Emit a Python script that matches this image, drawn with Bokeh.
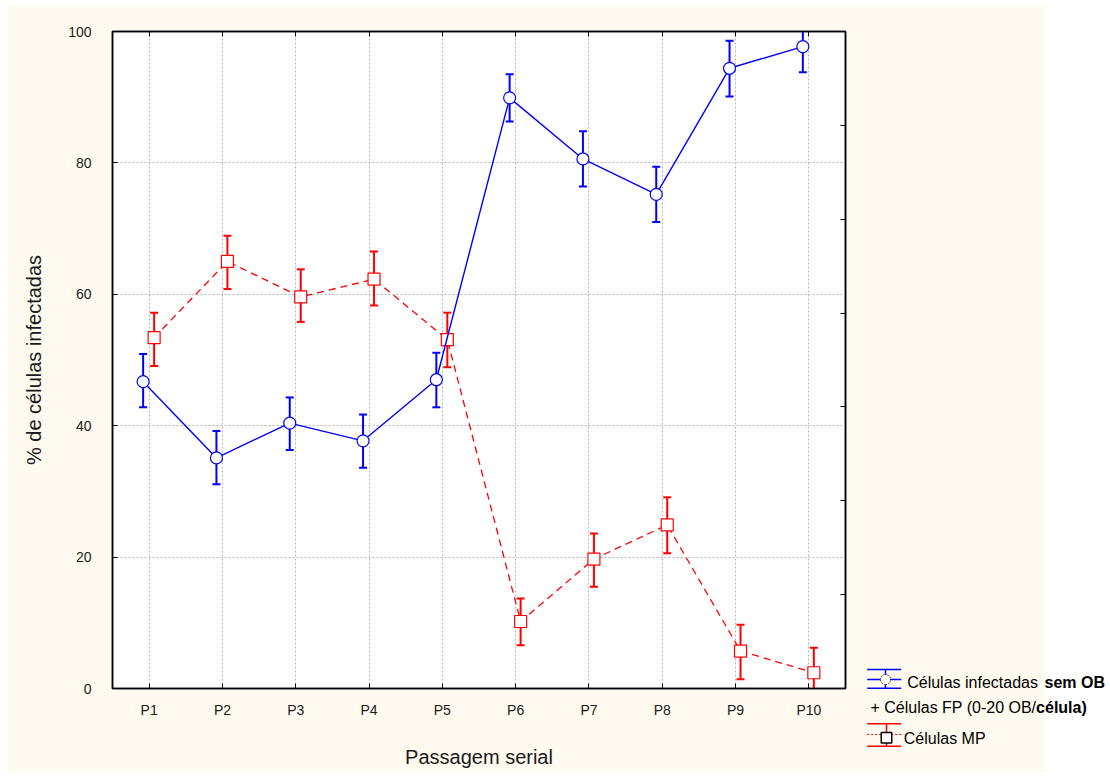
import numpy as np
from bokeh.plotting import figure
from bokeh.models import (ColumnDataSource, Range1d, FixedTicker, LinearAxis,
                          CustomJSTickFormatter)
from bokeh.core.properties import value
from bokeh.embed import file_html
from bokeh.resources import INLINE

# ---- data ----
passagens = ["P1", "P2", "P3", "P4", "P5", "P6", "P7", "P8", "P9", "P10"]
sem_ob = [46.7, 35.1, 40.4, 37.7, 47.0, 89.9, 80.6, 75.2, 94.4, 97.7]
sem_ob_sup = [50.9, 39.2, 44.3, 41.7, 51.1, 93.5, 84.8, 79.4, 98.6, 101.8]
sem_ob_inf = [42.8, 31.1, 36.3, 33.6, 42.8, 86.3, 76.4, 71.0, 90.1, 93.8]
mp = [53.4, 65.0, 59.6, 62.3, 53.1, 10.2, 19.7, 24.9, 5.7, 2.4]
mp_sup = [57.2, 68.9, 63.8, 66.5, 57.2, 13.7, 23.6, 29.1, 9.7, 6.2]
mp_inf = [49.1, 60.8, 55.8, 58.3, 48.9, 6.6, 15.5, 20.6, 1.4, -1.9]
y_ticks = [0, 20, 40, 60, 80, 100]

BLUE = "#0000FF"
RED = "#FF0000"
CREAM = "#FEFAEF"
TXT = "#1a1a1a"
FONT = "Liberation Sans"

pos = np.arange(1, len(passagens) + 1)
src_b = ColumnDataSource(dict(x=pos - 0.082, y=sem_ob, upper=sem_ob_sup, lower=sem_ob_inf))
src_r = ColumnDataSource(dict(x=pos + 0.068, y=mp, upper=mp_sup, lower=mp_inf))

p = figure(frame_width=733, frame_height=657,
           min_border_left=112, min_border_right=15, min_border_top=31, min_border_bottom=84,
           x_range=Range1d(0.5, 10.5), y_range=Range1d(0, 100),
           output_backend="svg", toolbar_location=None,
           border_fill_color=None, background_fill_color="white",
           outline_line_color="black", outline_line_width=1.5,
           styles={"background": "linear-gradient(%s, %s) 8px 5px / 100%% 100%% no-repeat, #FFFFFF"
                   % (CREAM, CREAM)})

# axes
p.xaxis.ticker = FixedTicker(ticks=list(pos))
p.xaxis.major_label_overrides = {int(i): lab for i, lab in zip(pos, passagens)}
p.yaxis.ticker = FixedTicker(ticks=y_ticks)
for ax in (p.xaxis[0], p.yaxis[0]):
    ax.major_tick_in = 5
    ax.major_tick_out = 0
    ax.minor_tick_line_color = None
    ax.axis_line_color = "black"
    ax.axis_line_width = 1.5
    ax.major_tick_line_color = "black"
    ax.major_label_text_font = FONT
    ax.major_label_text_font_size = "14px"
    ax.major_label_text_color = TXT
    ax.axis_label_text_font = FONT
    ax.axis_label_text_font_size = "20px"
    ax.axis_label_text_font_style = "normal"
    ax.axis_label_text_color = TXT
p.xaxis.axis_label = "Passagem serial"
p.yaxis.axis_label = "% de células infectadas"
p.xaxis.major_label_standoff = 13
p.xaxis.axis_label_standoff = 25
p.yaxis.major_label_standoff = 21
p.yaxis.axis_label_standoff = 20

blank = CustomJSTickFormatter(code="return '';")
top_ax = LinearAxis(ticker=FixedTicker(ticks=list(pos)), formatter=blank,
                    major_tick_in=5, major_tick_out=0, minor_tick_line_color=None,
                    axis_line_color="black", axis_line_width=1.5, major_label_standoff=0,
                    axis_label_standoff=0)
right_ax = LinearAxis(ticker=FixedTicker(ticks=[100.0 * k / 7 for k in range(8)]), formatter=blank,
                      major_tick_in=5, major_tick_out=0, minor_tick_line_color=None,
                      axis_line_color="black", axis_line_width=1.5, major_label_standoff=0,
                      axis_label_standoff=0)
p.add_layout(top_ax, "above")
p.add_layout(right_ax, "right")

# grid
p.xgrid.ticker = FixedTicker(ticks=list(pos))
p.ygrid.ticker = FixedTicker(ticks=y_ticks[1:-1])
for g in (p.xgrid[0], p.ygrid[0]):
    g.grid_line_color = "#b4b4b4"
    g.grid_line_dash = "2 2"
    g.grid_line_width = 1

# series: red first, blue on top
for src, col, dash, marker in ((src_r, RED, "7 5", "square"), (src_b, BLUE, "solid", "circle")):
    p.segment(x0="x", y0="lower", x1="x", y1="upper", source=src, line_color=col, line_width=2)
    p.scatter("x", "upper", source=src, marker="dash", size=8, line_color=col, line_width=2)
    p.scatter("x", "lower", source=src, marker="dash", size=8, line_color=col, line_width=2)
    p.line("x", "y", source=src, line_color=col, line_width=1.4 if col == BLUE else 1.3,
           line_dash=dash)
    p.scatter("x", "y", source=src, marker=marker, size=12, fill_color="white",
              line_color=col, line_width=1.2)

# ---- legend panel (separate root, absolutely placed; pixel coordinates, y downward) ----
LX, LW, LH = 860, 248, 772
lg = figure(width=LW, height=LH, x_range=Range1d(0, LW), y_range=Range1d(LH, 0),
            x_axis_location=None, y_axis_location=None,
            min_border=0, output_backend="svg", toolbar_location=None,
            border_fill_color=None, background_fill_color=None, outline_line_color=None,
            styles={"position": "absolute", "left": "%dpx" % LX, "top": "0px",
                    "background": "linear-gradient(%s, %s) 0px 5px / 185px 100%% no-repeat, #FFFFFF"
                    % (CREAM, CREAM)})
lg.grid.visible = False

# blue entry glyph
lg.segment(x0=[6.7, 6.7, 6.7, 25], y0=[669, 687.7, 679, 669],
           x1=[40.7, 40.7, 40.7, 25], y1=[669, 687.7, 679, 687.7],
           line_color=BLUE, line_width=1.5)
lg.scatter(x=[25], y=[679], marker="circle", size=10, fill_color="white",
           line_color="black", line_width=1, line_dash="1 1")
# red entry glyph
lg.segment(x0=[6.7, 6.7, 26], y0=[723.3, 745.7, 723.3],
           x1=[40.7, 40.7, 26], y1=[723.3, 745.7, 745.7],
           line_color=RED, line_width=1.5)
lg.segment(x0=[6.7], y0=[734], x1=[40.7], y1=[734], line_color=RED, line_width=1, line_dash="2 2")
lg.scatter(x=[26], y=[737.3], marker="square", size=10.5, fill_color="white",
           line_color="black", line_width=1.5)

def txt(x, y, s, bold=False):
    lg.text(x=[x], y=[y], text=[s], text_font=value(FONT), text_font_size=value("16px"),
            text_color="black", text_baseline="middle", text_align="left",
            text_font_style="bold" if bold else "normal")

txt(46.7, 681.5, "Células infectadas")
txt(184.0, 681.5, "sem OB", bold=True)
txt(10, 706.8, "+ Células FP (0-20 OB/")
txt(175.6, 706.8, "célula)", bold=True)
txt(43.3, 738.3, "Células MP")

open("out.html", "w").write(file_html([p, lg], INLINE))
